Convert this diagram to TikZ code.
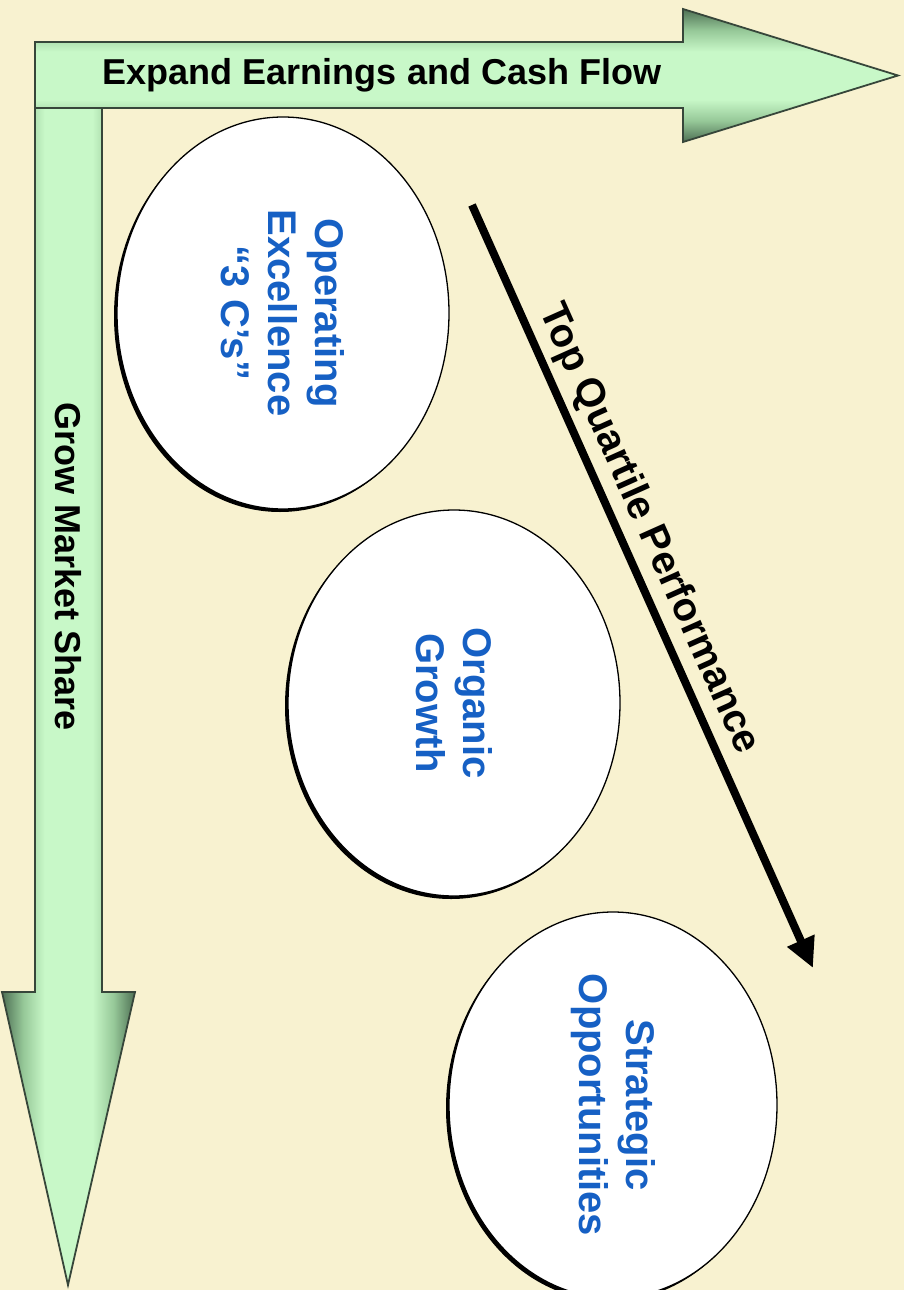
\documentclass[tikz,border=0pt]{standalone}
\usepackage{fontspec}
\setmainfont{Liberation Sans}
\usetikzlibrary{arrows.meta,shapes.geometric}
\definecolor{bg}{RGB}{248,242,208}
\definecolor{gdark}{RGB}{78,112,84}
\definecolor{gmid}{RGB}{150,200,152}
\definecolor{glight}{RGB}{200,248,200}
\definecolor{gborder}{RGB}{55,70,58}
\definecolor{txtblue}{RGB}{22,96,196}
\pgfdeclareverticalshading{arrowshade}{100bp}{color(0bp)=(gdark); color(25bp)=(gdark); color(33bp)=(gmid); color(41bp)=(glight); color(59bp)=(glight); color(67bp)=(gmid); color(75bp)=(gdark); color(100bp)=(gdark)}
\begin{document}
\begin{tikzpicture}[x=1pt,y=1pt,
  bigarrow/.style={draw=gborder, line width=1.8pt, line join=miter, shading=arrowshade},
  oval/.style={ellipse, draw=black, line width=1.3pt, fill=white, inner sep=0pt},
  ovalshadow/.style={ellipse, fill=black, inner sep=0pt},
  ovaltext/.style={rotate=-90, text=txtblue, font=\bfseries\fontsize{40pt}{47pt}\selectfont, align=center},
  arrowlabel/.style={font=\bfseries\fontsize{36pt}{43pt}\selectfont, text=black, inner sep=0pt}]
\fill[bg] (0,0) rectangle (904,-1290);
\useasboundingbox (0,0) rectangle (904,-1290);

% vertical arrow
\draw[bigarrow, shading angle=90] (35,-100) -- (35,-992) -- (2,-992) -- (68,-1285) -- (135,-992) -- (102,-992) -- (102,-100) -- cycle;
% horizontal arrow
\draw[bigarrow] (35,-42) -- (683,-42) -- (683,-9) -- (898,-75.5) -- (683,-142) -- (683,-108) -- (35,-108) -- cycle;

\node[arrowlabel] (earn) at (382,-75) {Expand Earnings and Cash Flow};
\node[arrowlabel, rotate=-90] (grow) at (68,-567) {Grow Market Share};

% ellipses
\node[ovalshadow, minimum width=332pt, minimum height=392pt] (oes) at (280,-316) {};
\node[oval, minimum width=332pt, minimum height=392pt] (oe) at (283,-313) {};
\node[ovaltext] (oet) at (oe.center) {Operating\\Excellence\\“3 C’s”};

\node[ovalshadow, minimum width=332pt, minimum height=386pt] (ogs) at (451,-706) {};
\node[oval, minimum width=332pt, minimum height=386pt] (og) at (454,-703) {};
\node[ovaltext] (ogt) at (og.center) {Organic\\Growth};

\node[ovalshadow, minimum width=328pt, minimum height=386pt] (sos) at (610,-1108) {};
\node[oval, minimum width=328pt, minimum height=386pt] (so) at (613,-1105) {};
\node[ovaltext] (sot) at (so.center) {Strategic\\Opportunities};

% top quartile arrow
\coordinate (qs) at (472,-205);
\coordinate (qe) at (813,-968);
\draw[line width=8pt, -{Triangle[length=30pt,width=28pt]}] (qs) -- (qe)
  node[pos=0.44, sloped, above=6pt, font=\bfseries\fontsize{40pt}{47pt}\selectfont, inner sep=0pt] (tq) {Top Quartile Performance};
\end{tikzpicture}
\end{document}
